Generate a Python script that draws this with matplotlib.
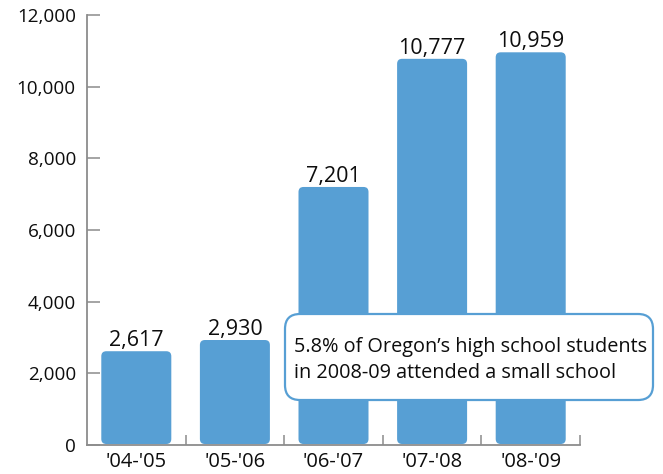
import matplotlib
matplotlib.use("Agg")
import matplotlib.pyplot as plt
from matplotlib.patches import FancyBboxPatch

plt.rcParams['font.family'] = ['Open Sans', 'DejaVu Sans']

# data
years = ["'04-'05", "'05-'06", "'06-'07", "'07-'08", "'08-'09"]
students = [2617, 2930, 7201, 10777, 10959]
y_ticks = [0, 2000, 4000, 6000, 8000, 10000, 12000]
note_lines = ["5.8% of Oregon\u2019s high school students",
              "in 2008-09 attended a small school"]

BAR_COLOR = "#579fd4"
AXIS_COLOR = "#8c8c8c"
TEXT_COLOR = "#0d0d0d"

W, H = 663, 474
fig = plt.figure(figsize=(W / 100, H / 100), dpi=100)
ax = fig.add_axes([87 / W, 1 - 445 / H, (580 - 87) / W, (445 - 15) / H])

ax.set_xlim(-0.5, len(years) - 0.5)
ax.set_ylim(0, 12000)

bars = ax.bar(range(len(years)), students, width=0.71, color=BAR_COLOR)

# swap plain bars for rounded ones (radius ~5 px)
px_x = (len(years)) / (580 - 87)      # data x per pixel
px_y = 12000 / (445 - 15)             # data y per pixel
for b in bars:
    x, y = b.get_x(), b.get_y()
    w, h = b.get_width(), b.get_height()
    b.set_visible(False)
    r = 5 * px_x
    patch = FancyBboxPatch((x, y + 1 * px_y), w, h - 1 * px_y,
                           boxstyle=f"round,pad=0,rounding_size={r}",
                           mutation_aspect=px_y / px_x,
                           facecolor=BAR_COLOR, edgecolor="none")
    ax.add_patch(patch)

for i, v in enumerate(students):
    ax.annotate(f"{v:,}", (i, v), xytext=(0, 3.5), textcoords="offset points",
                ha="center", va="baseline", fontsize=15.5, color=TEXT_COLOR)

# axes styling
for s in ["top", "right"]:
    ax.spines[s].set_visible(False)
for s in ["left", "bottom"]:
    ax.spines[s].set_color(AXIS_COLOR)
    ax.spines[s].set_linewidth(1.3)

ax.set_yticks(y_ticks)
ax.set_yticklabels([f"{t:,}" for t in y_ticks])
ax.tick_params(axis="y", direction="in", length=9, width=1.1, color=AXIS_COLOR,
               labelsize=13.6, labelcolor=TEXT_COLOR, pad=8)

ax.set_xticks(range(len(years)))
ax.set_xticklabels(years)
ax.tick_params(axis="x", which="major", length=0, labelsize=14.5,
               labelcolor=TEXT_COLOR, pad=5)
ax.set_xticks([i + 0.5 for i in range(len(years))], minor=True)
ax.tick_params(axis="x", which="minor", direction="in", length=7.5, width=1.1,
               color=AXIS_COLOR)

# callout box in figure pixels
bx0, by0, bx1, by1 = 285, 314, 653, 400
box = FancyBboxPatch((bx0 / W, 1 - by1 / H), (bx1 - bx0) / W, (by1 - by0) / H,
                     boxstyle=f"round,pad=0,rounding_size={15 / W}",
                     mutation_aspect=W / H, transform=fig.transFigure,
                     facecolor="white", edgecolor=BAR_COLOR, linewidth=1.6,
                     zorder=5)
fig.add_artist(box)
fig.text(294 / W, 1 - 352 / H, note_lines[0], fontsize=14.3, color=TEXT_COLOR,
         va="baseline", ha="left", zorder=6)
fig.text(294 / W, 1 - 378 / H, note_lines[1], fontsize=14.3, color=TEXT_COLOR,
         va="baseline", ha="left", zorder=6)

fig.savefig("out.png", dpi=100)
